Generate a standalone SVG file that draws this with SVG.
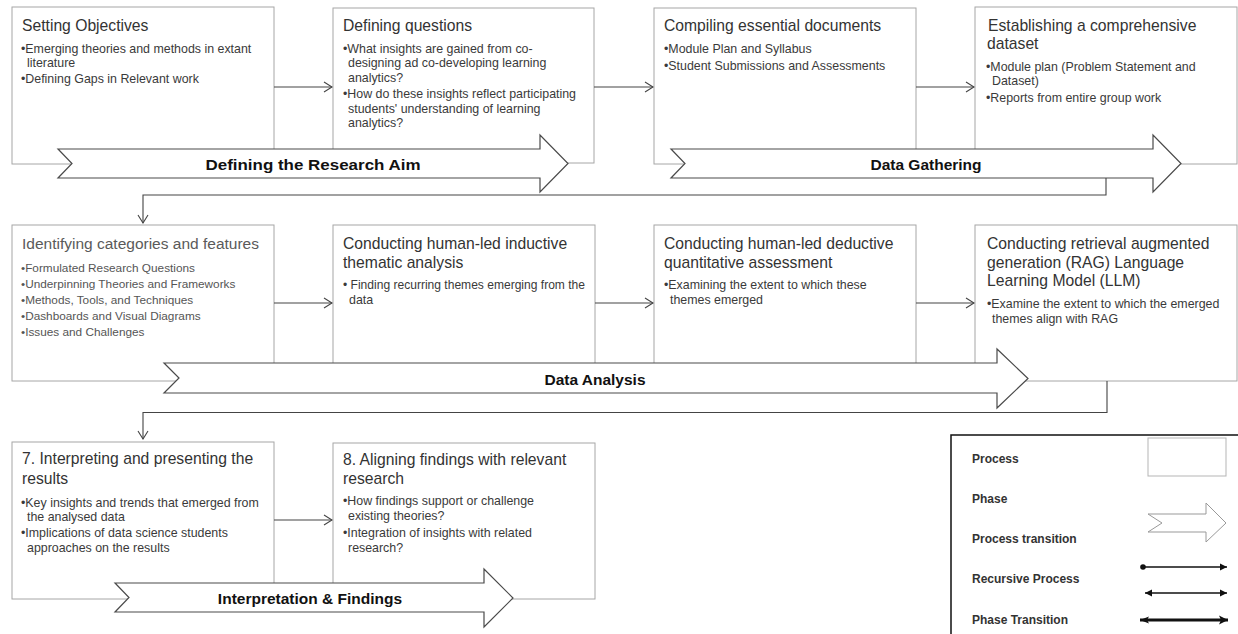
<svg xmlns="http://www.w3.org/2000/svg" width="1238" height="634" viewBox="0 0 1238 634">
<style>
.box{fill:#fff;stroke:#a6a6a6;stroke-width:1}
.phase{fill:#fff;stroke:#4a4a4a;stroke-width:1.2}
.title{font-family:"Liberation Sans",Arial,sans-serif;font-size:15.7px;fill:#333}
.title2{font-family:"Liberation Sans",Arial,sans-serif;font-size:15.5px;fill:#5a5a5a}
.bul{font-family:"Liberation Sans",Arial,sans-serif;font-size:12.4px;fill:#3a3a3a}
.bul2{font-family:"Liberation Sans",Arial,sans-serif;font-size:11.8px;fill:#555}
.plabel{font-family:"Liberation Sans",Arial,sans-serif;font-size:15.5px;font-weight:bold;fill:#111;text-anchor:middle}
.conn{fill:none;stroke:#444;stroke-width:1.1}
.leg{font-family:"Liberation Sans",Arial,sans-serif;font-size:12px;font-weight:bold;fill:#333}
</style>
<defs>
<marker id="open" markerWidth="10" markerHeight="12" refX="9" refY="6" orient="auto" markerUnits="userSpaceOnUse">
<path d="M1,1 L9,6 L1,11" fill="none" stroke="#444" stroke-width="1.1"/>
</marker>
<marker id="fill" markerWidth="8" markerHeight="8" refX="7" refY="4" orient="auto" markerUnits="userSpaceOnUse">
<path d="M0,0.5 L7,4 L0,7.5 Z" fill="#111"/>
</marker>
<marker id="fillStart" markerWidth="8" markerHeight="8" refX="1" refY="4" orient="auto" markerUnits="userSpaceOnUse">
<path d="M8,0.5 L1,4 L8,7.5 Z" fill="#111"/>
</marker>
<marker id="thick" markerWidth="10" markerHeight="10" refX="9" refY="5" orient="auto" markerUnits="userSpaceOnUse">
<path d="M0,0.5 L9,5 L0,9.5 L2,5 Z" fill="#111"/>
</marker>
<marker id="thickStart" markerWidth="10" markerHeight="10" refX="1" refY="5" orient="auto" markerUnits="userSpaceOnUse">
<path d="M10,1.5 L1,5 L10,8.5 L8,5 Z" fill="#111"/>
</marker>
</defs>
<rect width="1238" height="634" fill="#fff"/>

<!-- Row 1 -->
<g id="n1">
<rect class="box" x="12" y="7" width="262" height="157"/>
<text class="title" x="22" y="31">Setting Objectives</text>
<text class="bul" x="21" y="53">•Emerging theories and methods in extant</text>
<text class="bul" x="27" y="67">literature</text>
<text class="bul" x="21" y="83">•Defining Gaps in Relevant work</text>
</g>
<g id="n2">
<rect class="box" x="333" y="8" width="261" height="155"/>
<text class="title" x="343" y="31">Defining questions</text>
<text class="bul" x="343" y="53">•What insights are gained from co-</text>
<text class="bul" x="348" y="67">designing ad co-developing learning</text>
<text class="bul" x="348" y="82">analytics?</text>
<text class="bul" x="343" y="98">•How do these insights reflect participating</text>
<text class="bul" x="348" y="113">students' understanding of learning</text>
<text class="bul" x="348" y="127">analytics?</text>
</g>
<g id="n3">
<rect class="box" x="654" y="8" width="262" height="156"/>
<text class="title" x="664" y="31">Compiling essential documents</text>
<text class="bul" x="664" y="53">•Module Plan and Syllabus</text>
<text class="bul" x="664" y="70">•Student Submissions and Assessments</text>
</g>
<g id="n4">
<rect class="box" x="975" y="7" width="262" height="157"/>
<text class="title" x="988" y="31">Establishing a comprehensive</text>
<text class="title" x="987" y="49">dataset</text>
<text class="bul" x="986" y="71">•Module plan (Problem Statement and</text>
<text class="bul" x="992" y="85">Dataset)</text>
<text class="bul" x="986" y="102">•Reports from entire group work</text>
</g>

<!-- Row 2 -->
<g id="n5">
<rect class="box" x="12" y="225" width="262" height="156"/>
<text class="title2" x="22" y="249">Identifying categories and features</text>
<text class="bul2" x="21" y="272">•Formulated Research Questions</text>
<text class="bul2" x="21" y="288">•Underpinning Theories and Frameworks</text>
<text class="bul2" x="21" y="304">•Methods, Tools, and Techniques</text>
<text class="bul2" x="21" y="320">•Dashboards and Visual Diagrams</text>
<text class="bul2" x="21" y="336">•Issues and Challenges</text>
</g>
<g id="n6">
<rect class="box" x="333" y="225" width="262" height="156"/>
<text class="title" x="343" y="249">Conducting human-led inductive</text>
<text class="title" x="343" y="268">thematic analysis</text>
<text class="bul" x="343" y="289" textLength="242" lengthAdjust="spacingAndGlyphs">• Finding recurring themes emerging from the</text>
<text class="bul" x="349" y="304">data</text>
</g>
<g id="n7">
<rect class="box" x="654" y="225" width="262" height="156"/>
<text class="title" x="664" y="249">Conducting human-led deductive</text>
<text class="title" x="664" y="268">quantitative assessment</text>
<text class="bul" x="664" y="289">•Examining the extent to which these</text>
<text class="bul" x="670" y="304">themes emerged</text>
</g>
<g id="n8">
<rect class="box" x="975" y="225" width="262" height="156"/>
<text class="title" x="987" y="249">Conducting retrieval augmented</text>
<text class="title" x="987" y="268">generation (RAG) Language</text>
<text class="title" x="987" y="286">Learning Model (LLM)</text>
<text class="bul" x="987" y="308">•Examine the extent to which the emerged</text>
<text class="bul" x="992" y="323">themes align with RAG</text>
</g>

<!-- Row 3 -->
<g id="n9">
<rect class="box" x="12" y="442" width="262" height="157"/>
<text class="title" x="22" y="464">7. Interpreting and presenting the</text>
<text class="title" x="22" y="484">results</text>
<text class="bul" x="21" y="507">•Key insights and trends that emerged from</text>
<text class="bul" x="27" y="521">the analysed data</text>
<text class="bul" x="21" y="537">•Implications of data science students</text>
<text class="bul" x="27" y="552">approaches on the results</text>
</g>
<g id="n10">
<rect class="box" x="333" y="443" width="262" height="156"/>
<text class="title" x="343" y="465">8. Aligning findings with relevant</text>
<text class="title" x="343" y="484">research</text>
<text class="bul" x="343" y="505">•How findings support or challenge</text>
<text class="bul" x="348" y="520">existing theories?</text>
<text class="bul" x="343" y="537">•Integration of insights with related</text>
<text class="bul" x="348" y="552">research?</text>
</g>

<!-- Phases -->
<g id="phase1">
<path class="phase" d="M58,149 L540,149 L540,135 L568,163.5 L540,192 L540,178 L58,178 L72,163.5 Z"/>
<text class="plabel" x="313" y="170" textLength="215" lengthAdjust="spacingAndGlyphs">Defining the Research Aim</text>
</g>
<g id="phase2">
<path class="phase" d="M671,149 L1153,149 L1153,135 L1181,163.5 L1153,192 L1153,178 L671,178 L685,163.5 Z"/>
<text class="plabel" x="926" y="170">Data Gathering</text>
</g>
<g id="phase3">
<path class="phase" d="M164,363 L997,363 L997,349 L1028,378.5 L997,408 L997,393 L164,393 L179,378 Z"/>
<text class="plabel" x="595" y="385">Data Analysis</text>
</g>
<g id="phase4">
<path class="phase" d="M115,583 L484,583 L484,569 L513,598 L484,627 L484,612 L115,612 L129,597.5 Z"/>
<text class="plabel" x="310" y="604">Interpretation &amp; Findings</text>
</g>

<!-- Connectors -->
<g id="connectors">
<path class="conn" d="M274,87 L332,87" marker-end="url(#open)"/>
<path class="conn" d="M594,87 L653,87" marker-end="url(#open)"/>
<path class="conn" d="M916,87 L974,87" marker-end="url(#open)"/>
<path class="conn" d="M274,303 L332,303" marker-end="url(#open)"/>
<path class="conn" d="M595,303 L653,303" marker-end="url(#open)"/>
<path class="conn" d="M916,303 L974,303" marker-end="url(#open)"/>
<path class="conn" d="M274,520 L332,520" marker-end="url(#open)"/>
<path class="conn" d="M1106,178 L1106,195 L143,195 L143,223" marker-end="url(#open)"/>
<path class="conn" d="M1107,381 L1107,412.5 L143,412.5 L143,439" marker-end="url(#open)"/>
</g>

<!-- Legend -->
<g id="legend">
<rect x="951" y="435" width="300" height="220" fill="#fff" stroke="#111" stroke-width="1.5"/>
<text class="leg" x="972" y="463">Process</text>
<text class="leg" x="972" y="503">Phase</text>
<text class="leg" x="972" y="543">Process transition</text>
<text class="leg" x="972" y="583">Recursive Process</text>
<text class="leg" x="972" y="624">Phase Transition</text>
<rect x="1148" y="438" width="78" height="38" fill="#fff" stroke="#b5b5b5" stroke-width="1"/>
<path d="M1148,514 L1206,514 L1206,503 L1226,523 L1206,542 L1206,532 L1148,532 L1162,523 Z" fill="#fff" stroke="#999" stroke-width="1"/>
<circle cx="1143" cy="567" r="2.8" fill="#111"/>
<line x1="1143" y1="567" x2="1227" y2="567" stroke="#111" stroke-width="1.5" marker-end="url(#fill)"/>
<line x1="1145" y1="593" x2="1227" y2="593" stroke="#111" stroke-width="1.3" marker-start="url(#fillStart)" marker-end="url(#fill)"/>
<line x1="1140" y1="620" x2="1228" y2="620" stroke="#111" stroke-width="3" marker-start="url(#thickStart)" marker-end="url(#thick)"/>
</g>
</svg>
